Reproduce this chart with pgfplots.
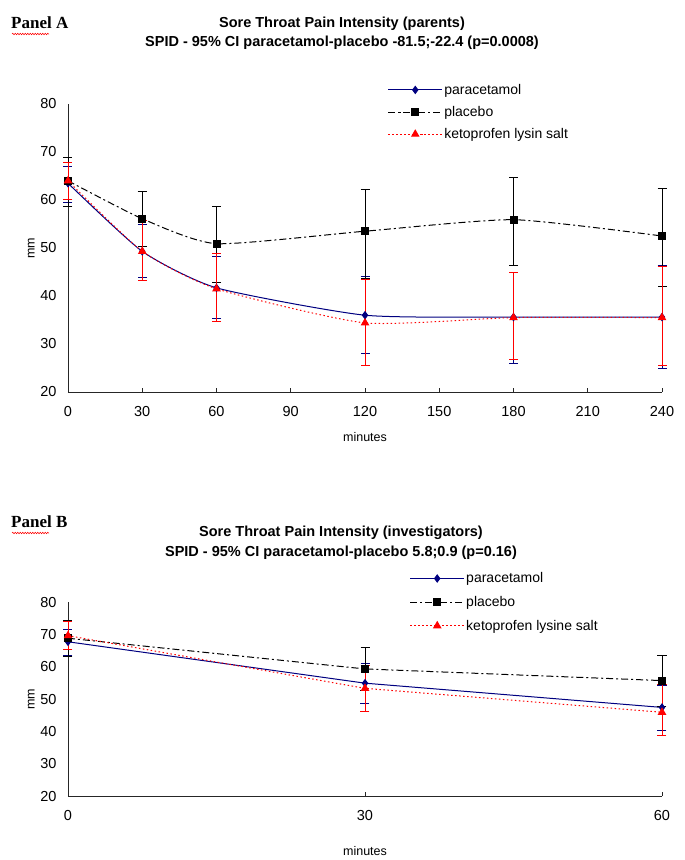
\documentclass[border=0pt]{standalone}
\usepackage{fontspec}
\setmainfont{Liberation Sans}
\newfontfamily\seriffont{Liberation Serif}
\usepackage{pgfplots}
\pgfplotsset{compat=1.18}
\usetikzlibrary{decorations.pathmorphing}
\definecolor{navy}{HTML}{000080}
\definecolor{kred}{HTML}{FF0000}

\pgfplotsset{
  panel/.style={
    scale only axis, width=594pt,
    axis x line=bottom, axis y line=left,
    axis line style={-, line width=0.8pt, black!85},
    ymin=20, ymax=80, ytick={20,30,...,80},
    clip=false,
    tick align=inside,
    major tick length=4pt,
    ytick style={draw=none},
    xtick style={line width=0.8pt, black!85},
    tick label style={font=\fontsize{14.5}{16}\selectfont},
    /pgf/number format/assume math mode=true,
    yticklabel style={xshift=-8pt},
    xticklabel style={yshift=-11pt},
    xlabel={minutes}, ylabel={mm},
    label style={font=\fontsize{12.5}{15}\selectfont},
    ylabel style={at={(axis description cs:-0.062,0.5)}, anchor=center},
    legend style={draw=none, fill=none, anchor=north west, inner sep=0pt,
      font=\fontsize{14}{16}\selectfont, nodes={inner sep=1.5pt}},
    legend cell align=left,
    legend image code/.code={\draw[mark repeat=2,mark phase=2] plot coordinates {(0pt,0pt)(27pt,0pt)(54pt,0pt)};},
  },
  para/.style={navy, line width=1pt, mark=diamond*, mark size=3.5pt, mark options={solid, fill=navy},
    error bars/y dir=both, error bars/y explicit,
    error bars/error bar style={navy, line width=0.8pt, solid},
    error bars/error mark options={rotate=90, mark size=4.5pt, navy, line width=0.8pt, solid}},
  plac/.style={black, line width=1pt, dash pattern=on 7pt off 3pt on 2pt off 3pt,
    mark=square*, mark size=3.5pt, mark options={solid, fill=black},
    error bars/y dir=both, error bars/y explicit,
    error bars/error bar style={black, line width=0.8pt, solid},
    error bars/error mark options={rotate=90, mark size=4.5pt, black, line width=0.8pt, solid}},
  keto/.style={kred, line width=1pt, dash pattern=on 1.5pt off 2.5pt,
    mark=triangle*, mark size=4pt, mark options={solid, fill=kred},
    error bars/y dir=both, error bars/y explicit,
    error bars/error bar style={kred, line width=0.8pt, solid},
    error bars/error mark options={rotate=90, mark size=4.5pt, kred, line width=0.8pt, solid}},
}

\begin{document}
\begin{tikzpicture}
\useasboundingbox (0pt,0pt) rectangle (685pt,-860pt);

% Panel A labels
\node[anchor=west, font=\seriffont\bfseries\fontsize{17}{19}\selectfont, inner sep=0pt] at (11pt,-23pt) {Panel A};
\draw[kred, line width=0.5pt, decorate, decoration={snake, amplitude=0.8pt, segment length=2.5pt}] (12pt,-34pt) -- (49pt,-34pt);
\node[font=\bfseries\fontsize{14.5}{17}\selectfont, inner sep=0pt] at (342pt,-24pt) {Sore Throat Pain Intensity (parents)};
\node[font=\bfseries\fontsize{14.5}{17}\selectfont, inner sep=0pt] at (342pt,-43pt) {SPID - 95\% CI paracetamol-placebo -81.5;-22.4 (p=0.0008)};

\begin{axis}[panel, at={(68pt,-392pt)}, anchor=south west, height=288pt,
  xmin=0, xmax=240, xtick={0,30,...,240},
  xlabel style={at={(axis description cs:0.5,-0.156)}, anchor=center},
  legend style={at={(axis description cs:0.538,1.075)}, row sep=7.5pt}]
\addplot[para, smooth, tension=0.35] coordinates {
  (0,63.5) += (0,3.4) -= (0,4.1)
  (30,49.3) += (0,5.7) -= (0,5.5)
  (60,41.7) += (0,6.6) -= (0,6.4)
  (120,36.0) += (0,8.0) -= (0,7.9)
  (180,35.6) += (0,9.4) -= (0,9.7)
  (240,35.6) += (0,10.7) -= (0,10.7)
};
\addlegendentry{paracetamol}
\addplot[plac, smooth, tension=0.35] coordinates {
  (0,64.0) += (0,4.8) -= (0,5.3)
  (30,56.1) += (0,5.7) -= (0,5.7)
  (60,50.9) += (0,7.8) -= (0,8.0)
  (120,53.5) += (0,8.7) -= (0,9.9)
  (180,55.9) += (0,8.9) -= (0,9.5)
  (240,52.5) += (0,10.0) -= (0,10.4)
};
\addlegendentry{placebo}
\addplot[keto, smooth, tension=0.35] coordinates {
  (0,64.0) += (0,3.8) -= (0,3.8)
  (30,49.3) += (0,6.5) -= (0,6.0)
  (60,41.5) += (0,7.3) -= (0,6.8)
  (120,34.4) += (0,9.0) -= (0,8.8)
  (180,35.5) += (0,9.5) -= (0,8.75)
  (240,35.5) += (0,10.7) -= (0,9.9)
};
\addlegendentry{ketoprofen lysin salt}
\end{axis}

% Panel B labels
\node[anchor=west, font=\seriffont\bfseries\fontsize{17}{19}\selectfont, inner sep=0pt] at (11pt,-522pt) {Panel B};
\draw[kred, line width=0.5pt, decorate, decoration={snake, amplitude=0.8pt, segment length=2.5pt}] (12pt,-533pt) -- (49pt,-533pt);
\node[font=\bfseries\fontsize{14.5}{17}\selectfont, inner sep=0pt] at (341pt,-533pt) {Sore Throat Pain Intensity (investigators)};
\node[font=\bfseries\fontsize{14.5}{17}\selectfont, inner sep=0pt] at (341pt,-553pt) {SPID - 95\% CI paracetamol-placebo 5.8;0.9 (p=0.16)};

\begin{axis}[panel, at={(68pt,-796pt)}, anchor=south west, height=194pt,
  xmin=0, xmax=60, xtick={0,30,60},
  xlabel style={at={(axis description cs:0.5,-0.284)}, anchor=center},
  legend style={at={(axis description cs:0.575,1.16)}, row sep=9pt}]
\addplot[para] coordinates {
  (0,67.7) += (0,3.9) -= (0,4.1)
  (30,54.9) += (0,6.2) -= (0,6.2)
  (60,47.4) += (0,6.8) -= (0,7.2)
};
\addlegendentry{paracetamol}
\addplot[plac] coordinates {
  (0,68.8) += (0,5.4) -= (0,5.5)
  (30,59.3) += (0,6.7) -= (0,6.7)
  (60,55.7) += (0,7.9) -= (0,7.9)
};
\addlegendentry{placebo}
\addplot[keto] coordinates {
  (0,69.6) += (0,4.3) -= (0,4.4)
  (30,53.3) += (0,7.2) -= (0,7.2)
  (60,45.9) += (0,8.6) -= (0,7.2)
};
\addlegendentry{ketoprofen lysine salt}
\end{axis}
\end{tikzpicture}
\end{document}
